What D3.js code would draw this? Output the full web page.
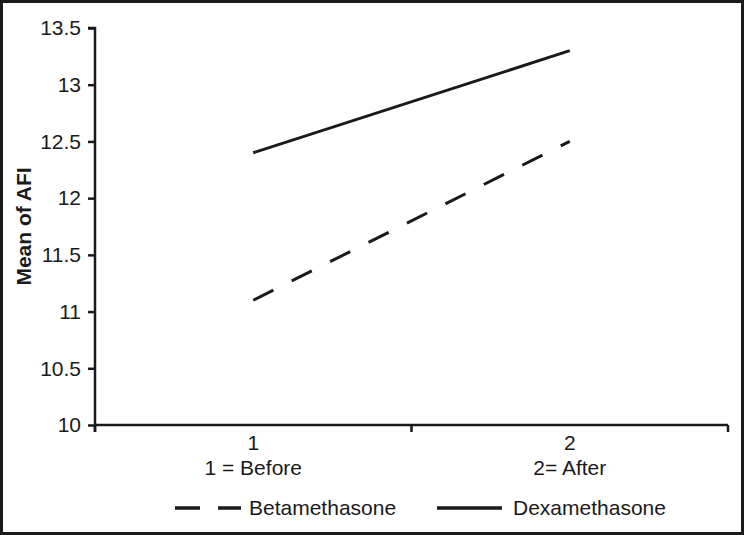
<!DOCTYPE html>
<html><head><meta charset="utf-8">
<script src="https://cdn.jsdelivr.net/npm/d3@7/dist/d3.min.js"></script>
<style>body{margin:0;background:#fff}svg{display:block}text{font-family:"Liberation Sans",Arial,sans-serif;fill:#1a1a1a}</style>
</head><body><svg id="c" width="744" height="535"></svg>
<script>
const categories = ["1", "2"];
const categorySubLabels = ["1 = Before", "2= After"];
const betamethasone = [11.1, 12.5];
const dexamethasone = [12.4, 13.3];
const yTicks = [10, 10.5, 11, 11.5, 12, 12.5, 13, 13.5];
const seriesNames = ["Betamethasone", "Dexamethasone"];

const svg = d3.select("#c");
const W = 744, H = 535;
const mLeft = 95, mRight = 728, mTop = 28, mBottom = 425;
const FS = 21;

svg.append("rect").attr("x",1.5).attr("y",1.5).attr("width",W-3).attr("height",H-3)
  .attr("fill","#fff").attr("stroke","#1a1a1a").attr("stroke-width",3);

const x = d3.scaleBand().domain(categories).range([mLeft, mRight]);
const y = d3.scaleLinear().domain([10, 13.5]).range([mBottom, mTop]);

// Y axis
const ya = svg.append("g").attr("transform",`translate(${mLeft},0)`)
  .call(d3.axisLeft(y).tickValues(yTicks).tickSize(7).tickPadding(7).tickFormat(d=>String(d)));
ya.attr("font-size",FS).attr("font-family","Liberation Sans, Arial, sans-serif");
ya.select(".domain").attr("stroke","#1a1a1a").attr("stroke-width",2.5).attr("d",`M-7,${mTop}H0V${mBottom+7}`);
ya.selectAll(".tick line").attr("stroke","#1a1a1a").attr("stroke-width",2.5);
ya.selectAll(".tick text").attr("font-size",FS).attr("fill","#1a1a1a");

// X axis
svg.append("line").attr("x1",mLeft).attr("x2",mRight).attr("y1",mBottom).attr("y2",mBottom)
  .attr("stroke","#1a1a1a").attr("stroke-width",2.5);
const bounds = categories.map(c=>x(c)).concat([x(categories[categories.length-1])+x.bandwidth()]);
svg.selectAll(".xt").data(bounds).join("line").attr("class","xt")
  .attr("x1",d=>d).attr("x2",d=>d).attr("y1",mBottom).attr("y2",mBottom+7)
  .attr("stroke","#1a1a1a").attr("stroke-width",2.5);
svg.selectAll(".xl").data(categories).join("text").attr("class","xl")
  .attr("x",d=>x(d)+x.bandwidth()/2).attr("y",450).attr("text-anchor","middle")
  .attr("font-size",FS).text(d=>d);
svg.selectAll(".xl2").data(categorySubLabels).join("text").attr("class","xl2")
  .attr("x",(d,i)=>x(categories[i])+x.bandwidth()/2).attr("y",475).attr("text-anchor","middle")
  .attr("font-size",FS).text(d=>d);

// Y axis title
svg.append("text").attr("transform",`translate(31,${(mTop+mBottom)/2}) rotate(-90)`)
  .attr("text-anchor","middle").attr("font-size",21).attr("font-weight","bold").text("Mean of AFI");

// Lines
const line = d3.line().x((d,i)=>x(categories[i])+x.bandwidth()/2).y(d=>y(d));
svg.append("path").datum(betamethasone).attr("d",line).attr("fill","none")
  .attr("stroke","#1a1a1a").attr("stroke-width",3).attr("stroke-dasharray","22.5,20.5");
svg.append("path").datum(dexamethasone).attr("d",line).attr("fill","none")
  .attr("stroke","#1a1a1a").attr("stroke-width",3);

// Legend
const ly = 508;
svg.append("line").attr("x1",175).attr("x2",241).attr("y1",ly).attr("y2",ly)
  .attr("stroke","#1a1a1a").attr("stroke-width",3.5).attr("stroke-dasharray","25,18");
svg.append("text").attr("x",249).attr("y",ly+7).attr("font-size",FS).text(seriesNames[0]);
svg.append("line").attr("x1",437).attr("x2",502).attr("y1",ly).attr("y2",ly)
  .attr("stroke","#1a1a1a").attr("stroke-width",3.5);
svg.append("text").attr("x",513).attr("y",ly+7).attr("font-size",FS).text(seriesNames[1]);
</script></body></html>
